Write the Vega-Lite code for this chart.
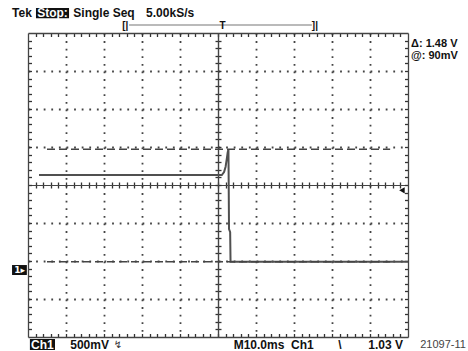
{
  "$schema": "https://vega.github.io/schema/vega-lite/v6.json",
  "width": 380,
  "height": 304,
  "autosize": {"type": "none"},
  "padding": {"left": 28, "top": 33, "right": 60, "bottom": 14},
  "background": "white",
  "config": {"view": {"stroke": null}},
  "data": {"values": [
    {"t": -47.1, "v": 1.23},
    {"t": 1.0, "v": 1.23},
    {"t": 1.6, "v": 1.27},
    {"t": 2.0, "v": 1.34},
    {"t": 2.3, "v": 1.44},
    {"t": 2.55, "v": 1.53},
    {"t": 2.75, "v": 1.57},
    {"t": 2.9, "v": 0.52},
    {"t": 3.2, "v": 0.48},
    {"t": 3.3, "v": 0.09},
    {"t": 50, "v": 0.09}
  ]},
  "resolve": {"axis": {"x": "independent", "y": "independent"}},
  "layer": [
    {
      "mark": {"type": "line", "color": "#505050", "strokeWidth": 2},
      "encoding": {
        "x": {"field": "t", "type": "quantitative",
          "scale": {"domain": [-50, 50], "nice": false, "zero": false},
          "axis": {"orient": "bottom", "values": [-40,-30,-20,-10,10,20,30,40], "grid": true, "gridDash": [1.8, 5.8], "gridColor": "#444", "gridWidth": 1.8, "ticks": false, "labels": false, "domain": false, "title": null}},
        "y": {"field": "v", "type": "quantitative",
          "scale": {"domain": [-0.9, 3.1], "nice": false, "zero": false},
          "axis": {"orient": "left", "values": [-0.4,0.1,0.6,1.6,2.1,2.6], "grid": true, "gridDash": [1.8, 5.8], "gridColor": "#444", "gridWidth": 1.8, "ticks": false, "labels": false, "domain": false, "title": null}}
      }
    },
    {
      "data": {"values": [{"cursor": "upper", "v": 1.57}, {"cursor": "lower", "v": 0.09}]},
      "mark": {"type": "rule", "color": "#444", "strokeWidth": 1.5, "strokeDash": [8, 4]},
      "encoding": {
        "x": {"datum": -45, "type": "quantitative",
          "axis": {"orient": "top", "values": [-48,-46,-44,-42,-40,-38,-36,-34,-32,-30,-28,-26,-24,-22,-20,-18,-16,-14,-12,-10,-8,-6,-4,-2,0,2,4,6,8,10,12,14,16,18,20,22,24,26,28,30,32,34,36,38,40,42,44,46,48], "domain": true, "domainColor": "#444", "domainWidth": 1.3, "ticks": true, "tickSize": -3.5, "tickWidth": 1.3, "tickColor": "#333", "grid": false, "labels": false, "title": null}},
        "x2": {"datum": 45.3},
        "y": {"field": "v", "type": "quantitative",
          "axis": {"orient": "right", "values": [-0.8,-0.7,-0.6,-0.5,-0.4,-0.3,-0.2,-0.1,0,0.1,0.2,0.3,0.4,0.5,0.6,0.7,0.8,0.9,1.0,1.1,1.2,1.3,1.4,1.5,1.6,1.7,1.8,1.9,2.0,2.1,2.2,2.3,2.4,2.5,2.6,2.7,2.8,2.9,3.0], "domain": true, "domainColor": "#444", "domainWidth": 1.3, "ticks": true, "tickSize": -3.5, "tickWidth": 1.3, "tickColor": "#333", "grid": false, "labels": false, "title": null}}
      }
    },
    {
      "data": {"values": [{"level": "trigger"}]},
      "mark": {"type": "point", "shape": "triangle-left", "filled": true, "color": "#111", "size": 40, "opacity": 1},
      "encoding": {
        "x": {"datum": 48.4, "type": "quantitative",
          "axis": {"orient": "bottom", "values": [-48,-46,-44,-42,-40,-38,-36,-34,-32,-30,-28,-26,-24,-22,-20,-18,-16,-14,-12,-10,-8,-6,-4,-2,0,2,4,6,8,10,12,14,16,18,20,22,24,26,28,30,32,34,36,38,40,42,44,46,48], "domain": true, "domainColor": "#444", "domainWidth": 1.3, "ticks": true, "tickSize": -3.5, "tickWidth": 1.3, "tickColor": "#333", "grid": false, "labels": false, "title": null}},
        "y": {"datum": 1.03, "type": "quantitative",
          "axis": {"orient": "left", "values": [-0.8,-0.7,-0.6,-0.5,-0.4,-0.3,-0.2,-0.1,0,0.1,0.2,0.3,0.4,0.5,0.6,0.7,0.8,0.9,1.0,1.1,1.2,1.3,1.4,1.5,1.6,1.7,1.8,1.9,2.0,2.1,2.2,2.3,2.4,2.5,2.6,2.7,2.8,2.9,3.0], "domain": true, "domainColor": "#444", "domainWidth": 1.3, "ticks": true, "tickSize": -3.5, "tickWidth": 1.3, "tickColor": "#333", "grid": false, "labels": false, "title": null}}
      }
    },
    {
      "data": {"values": [{"marker": "ground"}]},
      "mark": {"type": "rect", "color": "#111"},
      "encoding": {
        "x": {"datum": -54.2, "type": "quantitative",
          "axis": {"orient": "bottom", "offset": -152, "values": [-48,-46,-44,-42,-40,-38,-36,-34,-32,-30,-28,-26,-24,-22,-20,-18,-16,-14,-12,-10,-8,-6,-4,-2,0,2,4,6,8,10,12,14,16,18,20,22,24,26,28,30,32,34,36,38,40,42,44,46,48], "domain": true, "domainColor": "#444", "domainWidth": 1.2, "ticks": true, "tickSize": 3, "tickWidth": 1.3, "tickColor": "#333", "grid": false, "labels": false, "title": null}},
        "x2": {"datum": -50.3},
        "y": {"datum": 0.047, "type": "quantitative",
          "axis": {"orient": "left", "offset": -190, "values": [-0.8,-0.7,-0.6,-0.5,-0.4,-0.3,-0.2,-0.1,0,0.1,0.2,0.3,0.4,0.5,0.6,0.7,0.8,0.9,1.0,1.1,1.2,1.3,1.4,1.5,1.6,1.7,1.8,1.9,2.0,2.1,2.2,2.3,2.4,2.5,2.6,2.7,2.8,2.9,3.0], "domain": true, "domainColor": "#444", "domainWidth": 1.2, "ticks": true, "tickSize": 3, "tickWidth": 1.3, "tickColor": "#333", "grid": false, "labels": false, "title": null}},
        "y2": {"datum": -0.084}
      }
    },
    {
      "data": {"values": [{"box": "Stop"}]},
      "mark": {"type": "rect", "color": "#111"},
      "encoding": {
        "x": {"datum": -47.9, "type": "quantitative",
          "axis": {"orient": "top", "offset": -152, "values": [-48,-46,-44,-42,-40,-38,-36,-34,-32,-30,-28,-26,-24,-22,-20,-18,-16,-14,-12,-10,-8,-6,-4,-2,0,2,4,6,8,10,12,14,16,18,20,22,24,26,28,30,32,34,36,38,40,42,44,46,48], "domain": true, "domainColor": "#444", "domainWidth": 1.2, "ticks": true, "tickSize": 3, "tickWidth": 1.3, "tickColor": "#333", "grid": false, "labels": false, "title": null}},
        "x2": {"datum": -39.2},
        "y": {"datum": 3.429, "type": "quantitative",
          "axis": {"orient": "right", "offset": -190, "values": [-0.8,-0.7,-0.6,-0.5,-0.4,-0.3,-0.2,-0.1,0,0.1,0.2,0.3,0.4,0.5,0.6,0.7,0.8,0.9,1.0,1.1,1.2,1.3,1.4,1.5,1.6,1.7,1.8,1.9,2.0,2.1,2.2,2.3,2.4,2.5,2.6,2.7,2.8,2.9,3.0], "domain": true, "domainColor": "#444", "domainWidth": 1.2, "ticks": true, "tickSize": 3, "tickWidth": 1.3, "tickColor": "#333", "grid": false, "labels": false, "title": null}},
        "y2": {"datum": 3.293}
      }
    },
    {
      "data": {"values": [{"box": "Ch1"}]},
      "mark": {"type": "rect", "color": "#111"},
      "encoding": {
        "x": {"datum": -49.5, "type": "quantitative", "axis": null},
        "x2": {"datum": -42.9},
        "y": {"datum": -0.926, "type": "quantitative", "axis": null},
        "y2": {"datum": -1.071}
      }
    },
    {
      "data": {"values": [{"bar": "record"}]},
      "mark": {"type": "rule", "color": "#777", "strokeWidth": 1.2},
      "encoding": {
        "x": {"datum": -23.4, "type": "quantitative", "axis": null},
        "x2": {"datum": 24.7},
        "y": {"datum": 3.205, "type": "quantitative", "axis": null}
      }
    },
    {
      "data": {"values": [{"label": "Tek"}]},
      "mark": {"type": "text", "font": "Liberation Sans", "fontWeight": "bold", "fontSize": 12, "align": "center", "baseline": "middle", "color": "#111"},
      "encoding": {"x": {"datum": -51.6, "type": "quantitative", "axis": null}, "y": {"datum": 3.36, "type": "quantitative", "axis": null}, "text": {"field": "label"}}
    },
    {
      "data": {"values": [{"label": "Stop:"}]},
      "mark": {"type": "text", "font": "Liberation Sans", "fontWeight": "bold", "fontSize": 12, "align": "center", "baseline": "middle", "color": "white"},
      "encoding": {"x": {"datum": -43.55, "type": "quantitative", "axis": null}, "y": {"datum": 3.36, "type": "quantitative", "axis": null}, "text": {"field": "label"}}
    },
    {
      "data": {"values": [{"label": "Single Seq"}]},
      "mark": {"type": "text", "font": "Liberation Sans", "fontWeight": "bold", "fontSize": 12, "align": "center", "baseline": "middle", "color": "#111"},
      "encoding": {"x": {"datum": -30.0, "type": "quantitative", "axis": null}, "y": {"datum": 3.36, "type": "quantitative", "axis": null}, "text": {"field": "label"}}
    },
    {
      "data": {"values": [{"label": "5.00kS/s"}]},
      "mark": {"type": "text", "font": "Liberation Sans", "fontWeight": "bold", "fontSize": 12, "align": "center", "baseline": "middle", "color": "#111"},
      "encoding": {"x": {"datum": -12.6, "type": "quantitative", "axis": null}, "y": {"datum": 3.36, "type": "quantitative", "axis": null}, "text": {"field": "label"}}
    },
    {
      "data": {"values": [{"label": "[|"}]},
      "mark": {"type": "text", "font": "Liberation Sans", "fontWeight": "bold", "fontSize": 10, "align": "center", "baseline": "middle", "color": "#111"},
      "encoding": {"x": {"datum": -24.4, "type": "quantitative", "axis": null}, "y": {"datum": 3.19, "type": "quantitative", "axis": null}, "text": {"field": "label"}}
    },
    {
      "data": {"values": [{"label": "T"}]},
      "mark": {"type": "text", "font": "Liberation Sans", "fontWeight": "bold", "fontSize": 10, "align": "center", "baseline": "middle", "color": "#111"},
      "encoding": {"x": {"datum": 1.2, "type": "quantitative", "axis": null}, "y": {"datum": 3.19, "type": "quantitative", "axis": null}, "text": {"field": "label"}}
    },
    {
      "data": {"values": [{"label": "]|"}]},
      "mark": {"type": "text", "font": "Liberation Sans", "fontWeight": "bold", "fontSize": 10, "align": "center", "baseline": "middle", "color": "#111"},
      "encoding": {"x": {"datum": 25.5, "type": "quantitative", "axis": null}, "y": {"datum": 3.19, "type": "quantitative", "axis": null}, "text": {"field": "label"}}
    },
    {
      "data": {"values": [{"label": "Δ: 1.48 V"}]},
      "mark": {"type": "text", "font": "Liberation Sans", "fontWeight": "bold", "fontSize": 11, "align": "left", "baseline": "middle", "color": "#111"},
      "encoding": {"x": {"datum": 50.8, "type": "quantitative", "axis": null}, "y": {"datum": 2.95, "type": "quantitative", "axis": null}, "text": {"field": "label"}}
    },
    {
      "data": {"values": [{"label": "@: 90mV"}]},
      "mark": {"type": "text", "font": "Liberation Sans", "fontWeight": "bold", "fontSize": 11, "align": "left", "baseline": "middle", "color": "#111"},
      "encoding": {"x": {"datum": 50.8, "type": "quantitative", "axis": null}, "y": {"datum": 2.8, "type": "quantitative", "axis": null}, "text": {"field": "label"}}
    },
    {
      "data": {"values": [{"label": "1▸"}]},
      "mark": {"type": "text", "font": "DejaVu Sans", "fontWeight": "bold", "fontSize": 9, "align": "center", "baseline": "middle", "color": "white"},
      "encoding": {"x": {"datum": -52.2, "type": "quantitative", "axis": null}, "y": {"datum": -0.02, "type": "quantitative", "axis": null}, "text": {"field": "label"}}
    },
    {
      "data": {"values": [{"label": "Ch1"}]},
      "mark": {"type": "text", "font": "Liberation Sans", "fontWeight": "bold", "fontSize": 12, "align": "center", "baseline": "middle", "color": "white"},
      "encoding": {"x": {"datum": -46.2, "type": "quantitative", "axis": null}, "y": {"datum": -1.0, "type": "quantitative", "axis": null}, "text": {"field": "label"}}
    },
    {
      "data": {"values": [{"label": "500mV"}]},
      "mark": {"type": "text", "font": "Liberation Sans", "fontWeight": "bold", "fontSize": 12, "align": "center", "baseline": "middle", "color": "#111"},
      "encoding": {"x": {"datum": -33.8, "type": "quantitative", "axis": null}, "y": {"datum": -1.0, "type": "quantitative", "axis": null}, "text": {"field": "label"}}
    },
    {
      "data": {"values": [{"label": "↯"}]},
      "mark": {"type": "text", "font": "DejaVu Sans", "fontSize": 10, "align": "center", "baseline": "middle", "color": "#333"},
      "encoding": {"x": {"datum": -26.3, "type": "quantitative", "axis": null}, "y": {"datum": -1.0, "type": "quantitative", "axis": null}, "text": {"field": "label"}}
    },
    {
      "data": {"values": [{"label": "M10.0ms"}]},
      "mark": {"type": "text", "font": "Liberation Sans", "fontWeight": "bold", "fontSize": 12, "align": "center", "baseline": "middle", "color": "#111"},
      "encoding": {"x": {"datum": 10.8, "type": "quantitative", "axis": null}, "y": {"datum": -1.0, "type": "quantitative", "axis": null}, "text": {"field": "label"}}
    },
    {
      "data": {"values": [{"label": "Ch1"}]},
      "mark": {"type": "text", "font": "Liberation Sans", "fontWeight": "bold", "fontSize": 12, "align": "center", "baseline": "middle", "color": "#111"},
      "encoding": {"x": {"datum": 22.2, "type": "quantitative", "axis": null}, "y": {"datum": -1.0, "type": "quantitative", "axis": null}, "text": {"field": "label"}}
    },
    {
      "data": {"values": [{"label": "\\"}]},
      "mark": {"type": "text", "font": "Liberation Sans", "fontWeight": "bold", "fontSize": 12, "align": "center", "baseline": "middle", "color": "#111"},
      "encoding": {"x": {"datum": 32.1, "type": "quantitative", "axis": null}, "y": {"datum": -1.0, "type": "quantitative", "axis": null}, "text": {"field": "label"}}
    },
    {
      "data": {"values": [{"label": "1.03 V"}]},
      "mark": {"type": "text", "font": "Liberation Sans", "fontWeight": "bold", "fontSize": 12, "align": "center", "baseline": "middle", "color": "#111"},
      "encoding": {"x": {"datum": 44.1, "type": "quantitative", "axis": null}, "y": {"datum": -1.0, "type": "quantitative", "axis": null}, "text": {"field": "label"}}
    },
    {
      "data": {"values": [{"label": "21097-11"}]},
      "mark": {"type": "text", "font": "Liberation Sans", "fontSize": 11, "align": "left", "baseline": "middle", "color": "#444"},
      "encoding": {"x": {"datum": 53.2, "type": "quantitative", "axis": null}, "y": {"datum": -1.0, "type": "quantitative", "axis": null}, "text": {"field": "label"}}
    }
  ]
}
